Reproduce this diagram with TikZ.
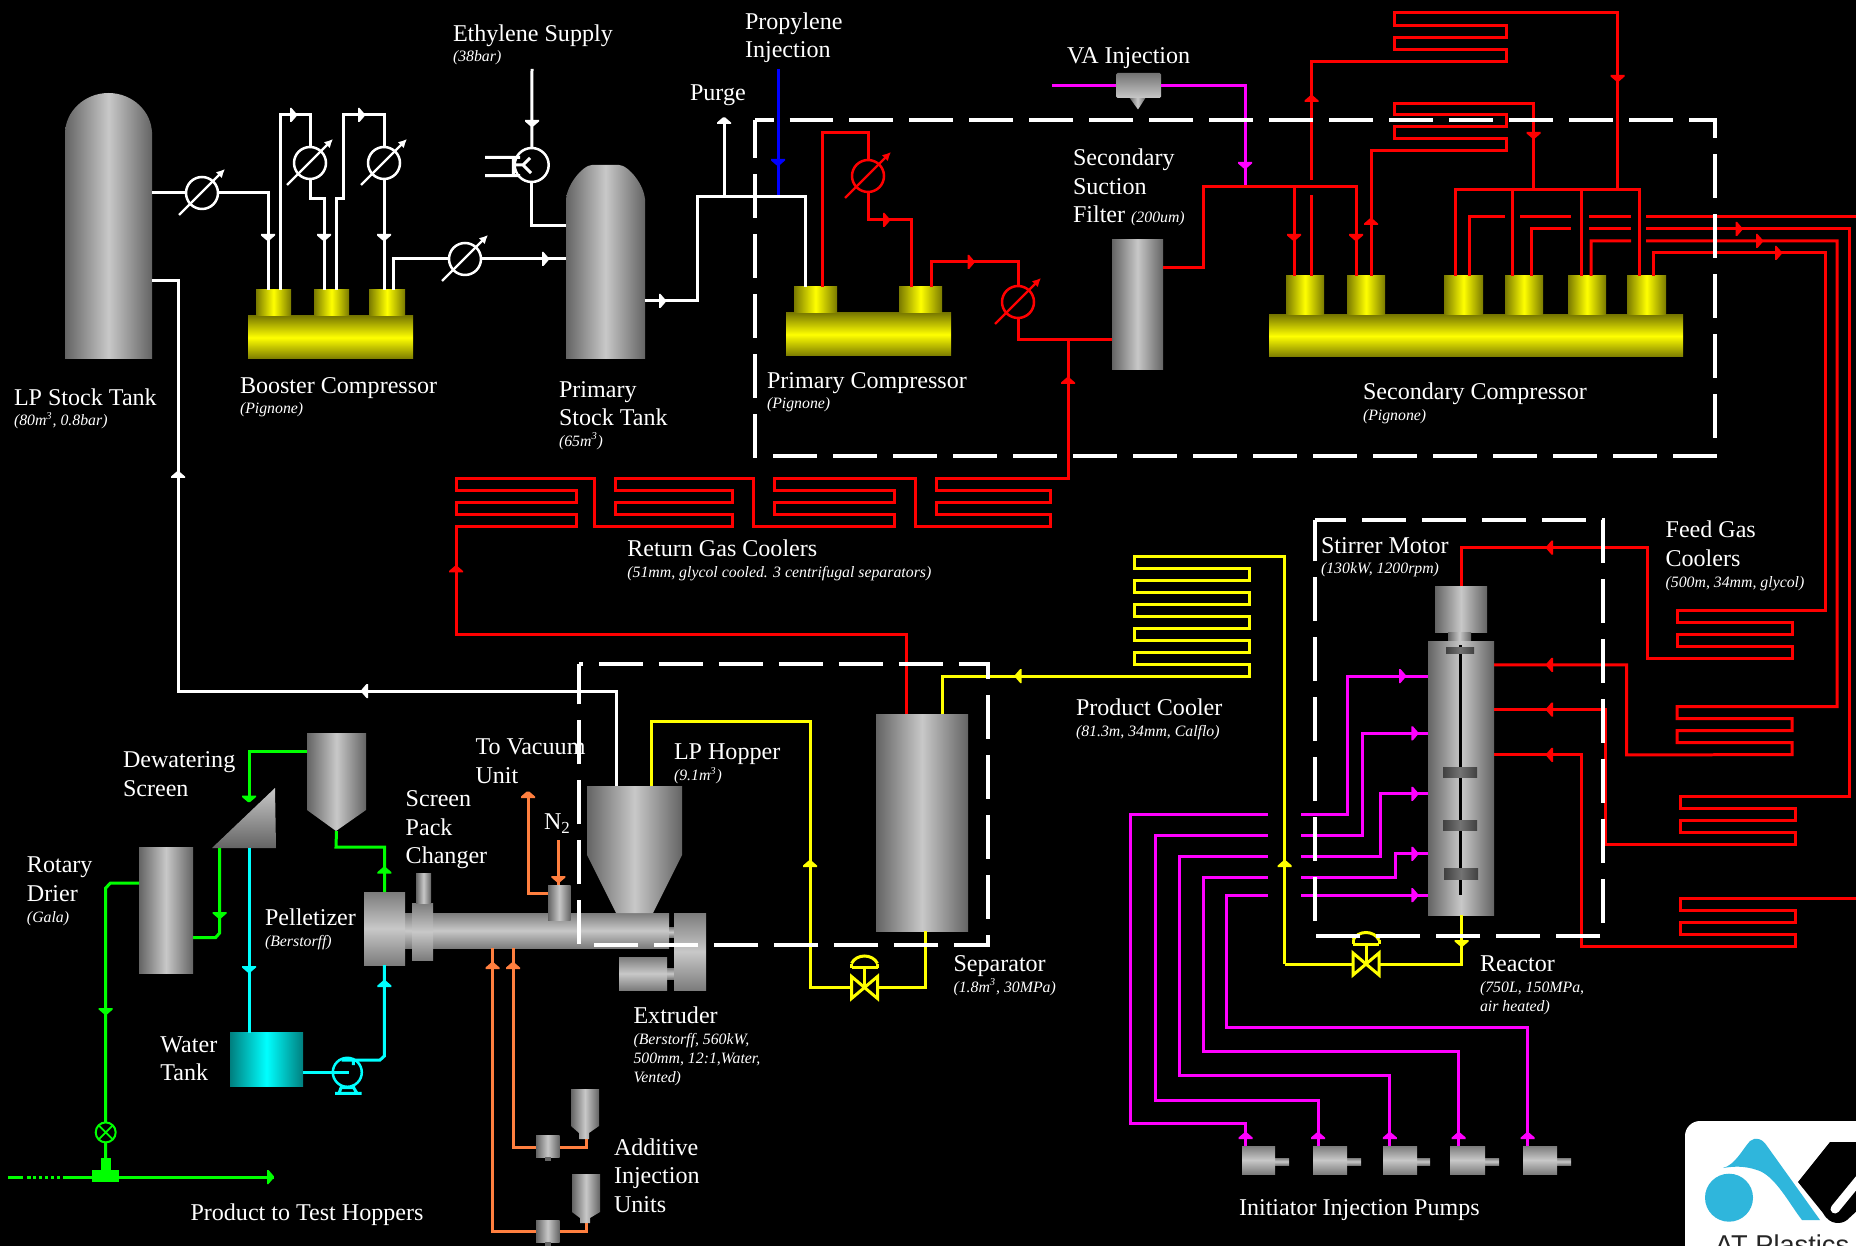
\documentclass[tikz,border=0pt]{standalone}
\usepackage{fontspec}
\setmainfont{Liberation Serif}
\newfontfamily\logofont{Liberation Sans}
\usetikzlibrary{arrows.meta,fit}
\definecolor{vesselEdge}{HTML}{646464}
\definecolor{vesselMid}{HTML}{C8C8C8}
\definecolor{barrelEdge}{HTML}{7C7C7C}
\definecolor{oliveEdge}{HTML}{7A7A00}
\definecolor{waterEdge}{HTML}{007F7F}
\definecolor{addOrange}{HTML}{FF7F3F}
\definecolor{logoBlue}{HTML}{2FB6DC}
\definecolor{pipeGreen}{HTML}{00FF00}
\definecolor{pipeMagenta}{HTML}{FF00FF}
\definecolor{pipeCyan}{HTML}{00FFFF}
\definecolor{pipeYellow}{HTML}{FFFF00}
\definecolor{pipeRed}{HTML}{FF0000}
\definecolor{pipeBlue}{HTML}{0000FF}
\newcommand{\coilfive}[4]{-- (#1,#3) -- (#1,#3+#4) -- (#2,#3+#4) -- (#2,#3+2*#4) -- (#1,#3+2*#4) -- (#1,#3+3*#4) -- (#2,#3+3*#4) -- (#2,#3+4*#4) }
\newcommand{\subtxt}[1]{{\itshape\fontsize{9}{11}\selectfont #1}}
\begin{document}
\begin{tikzpicture}[x=.02cm,y=-.02cm,inner sep=0pt,outer sep=0pt,
pipe/.style={line width=.06cm},
vessel/.style={left color=vesselEdge,right color=vesselEdge,middle color=vesselMid},
barrel/.style={top color=barrelEdge,bottom color=barrelEdge,middle color=vesselMid},
yellowbody/.style={top color=oliveEdge,bottom color=oliveEdge,middle color=pipeYellow},
yellowcyl/.style={left color=oliveEdge,right color=oliveEdge,middle color=pipeYellow},
watertank/.style={left color=waterEdge,right color=waterEdge,middle color=pipeCyan},
paddle/.style={left color=black!75,right color=black!75,middle color=black!55},
hx/.style={draw,circle,minimum size=.64cm,line width=.05cm},
hxdiag/.style={line width=.045cm,-{Latex[length=.17cm,width=.17cm]}},
lbl/.style={anchor=base west,align=left,text=white,font=\fontsize{13.7}{16.2}\selectfont},
boxdash/.style={line width=.09cm,white,dash pattern=on .88cm off .32cm},
flowmark/.pic={\fill (-3,-7) -- (-1.5,-7) -- (3.5,-1.2) -- (3.5,1.2) -- (-1.5,7) -- (-3,7) -- cycle;},
valve/.pic={\draw[pipe] (-13,-11) -- (13,11) -- (13,-11) -- (-13,11) -- cycle;
  \draw[pipe] (0,0) -- (0,-20);
  \draw[pipe] (-13,-20) -- (13,-20) (-13,-24) -- (-13,-20) (13,-24) -- (13,-20);
  \draw[pipe] (-13,-24) .. controls (-8,-34) and (8,-34) .. (13,-24);
  \coordinate (-w) at (-13,0); \coordinate (-e) at (13,0); \coordinate (-s) at (0,11);}]
\useasboundingbox (0,0) rectangle (1856,1246);
\clip (0,0) rectangle (1856,1246);
\fill[black] (0,0) rectangle (1856,1246);
% tanks
\node[vessel,fit={(65,133) (152,359)}] (lpTank) {};
\shade[vessel] (65,134) .. controls (65,111) and (85,93) .. (108.5,93) .. controls (132,93) and (152,111) .. (152,134) -- cycle;
\node[vessel,fit={(566,200) (645,359)}] (primTank) {};
\shade[vessel] (566,201) .. controls (566,185) and (583,165) .. (592,165) -- (619,165) .. controls (628,165) and (645,185) .. (645,201) -- cycle;
\node[vessel,fit={(1112,240) (1163,370)}] (filter) {};
\node[vessel,fit={(876,714) (968,931)}] (separator) {};
\node[vessel,fit={(139,847) (193,973)}] (drier) {};
\node[watertank,fit={(230,1032.5) (303,1086)}] (waterTank) {};
% booster compressor
\node[yellowbody,fit={(248,316) (413,359)}] (boostBody) {};
\foreach \n/\xa/\xb in {1/256/291,2/314/349,3/369/405}
  \node[yellowcyl,fit={(\xa,290) (\xb,316)}] (boostCyl\n) {};
% primary compressor
\node[yellowbody,fit={(786,313) (951,356)}] (primBody) {};
\foreach \n/\xa/\xb in {1/794/837,2/899/942}
  \node[yellowcyl,fit={(\xa,287) (\xb,313)}] (primCyl\n) {};
% secondary compressor
\node[yellowbody,fit={(1269,315) (1683,357)}] (secBody) {};
\foreach \n/\xa/\xb in {1/1286/1324,2/1347/1385,3/1444/1483,4/1505/1543,5/1568/1606,6/1627/1666}
  \node[yellowcyl,fit={(\xa,276) (\xb,315)}] (secCyl\n) {};
% VA injector
\node[fit={(1116,73) (1161,109)}] (vaPot) {};
\shade[vessel] (1129,97) -- (1146,97) -- (1138,109.5) -- cycle;
\shade[top color=black!55,bottom color=vesselMid,rounded corners=.03cm] (1116,73) rectangle (1161,98);
% extruder line
\node[barrel,fit={(405,913) (669,948)}] (extBarrel) {};
\node[barrel,fit={(364,892) (405,965)}] (pelletizer) {};
\node[barrel,fit={(412,903) (433,960)}] (screenPack) {};
\node[vessel,fit={(416,873) (431,903)}] (screenTube) {};
\node[vessel,fit={(548,885) (570.5,920)}] (n2Port) {};
\node[barrel,fit={(669,927) (674,937)}] (extStubA) {};
\node[barrel,fit={(667,968) (674,979)}] (extStubB) {};
\node[barrel,fit={(674,913) (706,990)}] (gearBox) {};
\node[barrel,fit={(619,957) (667,990)}] (extMotor) {};
\node[fit={(587,786) (682,913)}] (lpHopper) {};
\shade[vessel] (587,786) -- (682,786) -- (682,855) -- (653,913) -- (616,913) -- (587,855) -- cycle;
% pellet handling
\node[fit={(307,733) (366,831)}] (dryHopper) {};
\shade[vessel] (307,733) -- (366,733) -- (366,810) -- (336,831) -- (307,810) -- cycle;
\node[fit={(212,788) (276,848)}] (dewScreen) {};
\shade[top color=vesselMid,bottom color=vesselEdge] (275,788) -- (276,848) -- (212,848) -- cycle;
% additive units
\foreach \n/\ya/\yb/\yc/\yd/\xs in {1/1089/1126/1133/1139/0,2/1174/1212/1218/1223/1}
  \shade[vessel] (571+\xs,\ya) -- (599+\xs,\ya) -- (599+\xs,\yb) -- (589+\xs,\yc) -- (589+\xs,\yd) -- (579+\xs,\yd) -- (579+\xs,\yc) -- (571+\xs,\yb) -- cycle;
\foreach \n/\ya/\yb in {1/1135/1157,2/1220/1242}{
  \node[vessel,fit={(536,\ya) (559.5,\yb)}] (addPump\n) {};
  \fill[vesselEdge] (545,\yb) rectangle (551,\yb+4);}
% reactor
\node[vessel,fit={(1435,586) (1487,632)}] (stirMotor) {};
\node[vessel,fit={(1448,632) (1471,641)}] (stirCoupling) {};
\node[vessel,fit={(1428,641) (1494,915)}] (reactor) {};
\draw[line width=.05cm,black] (1460.7,645) -- (1460.7,895);
\node[paddle,fit={(1446,647) (1474,653)}] (paddle1) {};
\node[paddle,fit={(1443,767) (1477,777)}] (paddle2) {};
\node[paddle,fit={(1443,820) (1477,830)}] (paddle3) {};
\node[paddle,fit={(1444,868) (1478,879)}] (paddle4) {};
% initiator pumps
\foreach \n/\xa/\xb/\xc in {1/1242/1275/1289,2/1313/1347/1361,3/1383/1417/1430,4/1450/1485/1499,5/1523/1557/1571}{
  \node[barrel,fit={(\xb,1158) (\xc,1165)}] (initShaft\n) {};
  \node[barrel,fit={(\xa,1146) (\xb,1174)}] (initPump\n) {};}
% heat exchangers and compressor, pumps
\node[hx,draw=white] (hxLP) at (202,193) {};
\node[hx,draw=white] (hxB1) at (310,163) {};
\node[hx,draw=white] (hxB2) at (384,163) {};
\node[hx,draw=white] (hxB3) at (465,259) {};
\node[hx,draw=pipeRed] (hxP1) at (868,176) {};
\node[hx,draw=pipeRed] (hxP2) at (1018,302) {};
\foreach \n/\c in {hxLP/white,hxB1/white,hxB2/white,hxB3/white,hxP1/pipeRed,hxP2/pipeRed}
  \draw[hxdiag,\c] (\n) ++(-23,22) -- ++(46,-46);
\node[draw=white,circle,minimum size=.68cm,line width=.05cm] (ethComp) at (531.7,165) {};
\draw[pipe,white] (485,157.3) -- (520,157.3) (485,175.7) -- (520,175.7) (513.3,157.3) -- (513.3,175.7) (513.3,165) -- (523,165) (530,158) -- (523,165) (523,165) -- (531,173);
\node[draw=pipeCyan,circle,minimum size=.58cm,line width=.05cm] (waterPump) at (347.3,1072.3) {};
\draw[pipe,pipeCyan] (353.3,1060) -- (353.3,1065) (342,1085) -- (339,1093.3) (352,1085) -- (357,1093.3) (340.7,1087.7) -- (355,1087.7) (335,1093.3) -- (361.7,1093.3);
% white pipes
\draw[pipe,white] (lpTank.east |- hxLP) -- (hxLP);
\draw[pipe,white] (hxLP) -| (268,0 |- boostCyl1.north);
\draw[pipe,white] (280,0 |- boostCyl1.north) -- (280,115) -| (hxB1);
\draw[pipe,white] (hxB1) |- (324,199) -- (324,0 |- boostCyl2.north);
\draw[pipe,white] (336,0 |- boostCyl2.north) -- (336,199) -- (343,199) -- (343,115) -| (hxB2);
\draw[pipe,white] (hxB2) -- (hxB2 |- boostCyl3.north);
\draw[pipe,white] (393,0 |- boostCyl3.north) -- (393,259) -- (hxB3);
\draw[pipe,white] (hxB3) -- (primTank.west |- hxB3);
\draw[pipe,white] (532,69) -- (ethComp);
\draw[pipe,white] (ethComp) |- (primTank.west |- 0,226);
\draw[pipe,white] (primTank.east |- 0,301) -- (697,301) -- (697,197) -- (805.5,197) -- (805.5,0 |- primCyl1.north);
\draw[pipe,white] (724,197) -- (724,120);
\draw[pipe,white] (lpTank.east |- 0,281) -- (178,281) -- (178,691) -- (616,691) -- (616,0 |- lpHopper.north);
% blue and magenta pipes
\draw[pipe,pipeBlue] (778,69) -- (778,195);
\draw[pipe,pipeMagenta] (1052,85.3) -- (1116,85.3);
\draw[pipe,pipeMagenta] (1161,85.3) -- (1245,85.3) -- (1245,187);
\foreach \ya/\xb/\yb in {814.3/1347.3/676,835.7/1362.8/733.3,856/1380.6/793.8,877.6/1395.6/853.8}
  \draw[pipe,pipeMagenta] (1301,\ya) -- (\xb,\ya) -- (\xb,\yb) -- (reactor.west |- 0,\yb);
\draw[pipe,pipeMagenta] (1301,895.2) -- (reactor.west |- 0,895.2);
\foreach \n/\ya/\xa/\yb/\xb in {1/814.3/1130.9/1123.8/1245.6,2/835.7/1155.4/1100/1318,3/856/1179/1075.7/1389.8,4/877.6/1203.7/1051.4/1458.7,5/895.2/1226.8/1027.6/1527.7}
  \draw[pipe,pipeMagenta] (1267.8,\ya) -- (\xa,\ya) -- (\xa,\yb) -- (\xb,\yb) -- (\xb,0 |- initPump\n.north);
% red pipes
\draw[pipe,pipeRed] (822,0 |- primCyl1.north) -- (822,133) -| (hxP1);
\draw[pipe,pipeRed] (hxP1) |- (911.5,220) -- (911.5,0 |- primCyl2.north);
\draw[pipe,pipeRed] (931,0 |- primCyl2.north) -- (931,262) -| (hxP2);
\draw[pipe,pipeRed] (hxP2) |- (filter.west |- 0,340);
\draw[pipe,pipeRed] (filter.east |- 0,268) -- (1203,268) -- (1203,187) -- (1356,187) -- (1356,0 |- secCyl2.north);
\draw[pipe,pipeRed] (1294,187) -- (1294,0 |- secCyl1.north);
\draw[pipe,pipeRed] (1311.5,0 |- secCyl1.north) -- (1311.5,195);
\draw[pipe,pipeRed] (1311.5,180) -- (1311.5,61.5) -- (1506,61.5) -- (1506,49.5) -- (1394,49.5) -- (1394,37.5) -- (1506,37.5) -- (1506,25.5) -- (1394,25.5) -- (1394,13) -- (1617.6,13) -- (1617.6,190);
\draw[pipe,pipeRed] (1371,0 |- secCyl2.north) -- (1371,151) -- (1506,151) -- (1506,139) -- (1394,139) -- (1394,127) -- (1506,127) -- (1506,115) -- (1394,115) -- (1394,103.5) -- (1533.6,103.5) -- (1533.6,190);
\draw[pipe,pipeRed] (1455,0 |- secCyl3.north) -- (1455,190) -- (1639,190) -- (1639,0 |- secCyl6.north);
\draw[pipe,pipeRed] (1512,190) -- (1512,0 |- secCyl4.north);
\draw[pipe,pipeRed] (1581,190) -- (1581,0 |- secCyl5.north);
% secondary discharge, broken where it passes the header legs
\draw[pipe,pipeRed] (1469.5,0 |- secCyl3.north) -- (1469.5,217) -- (1505,217) (1520,217) -- (1571,217) (1589,217) -- (1631,217) (1646,217) -- (1856,217);
\draw[pipe,pipeRed] (1531,0 |- secCyl4.north) -- (1531,229) -- (1571,229) (1589,229) -- (1631,229) (1646,229) -- (1849,229) -- (1849,796) \coilfive{1680.5}{1795}{796}{12} -- (1605,844) -- (1605,709.5) -- (reactor.east |- 0,709.5);
\draw[pipe,pipeRed] (1591,0 |- secCyl5.north) -- (1591,241) -- (1631,241) (1646,241) -- (1837,241) -- (1837,706.7) \coilfive{1677}{1792}{706.7}{12} -- (1626.5,754.8) -- (1626.5,664.8) -- (reactor.east |- 0,664.8);
\draw[pipe,pipeRed] (1653,0 |- secCyl6.north) -- (1653,253) -- (1825,253) -- (1825,610.5) \coilfive{1677}{1792}{610.5}{12} -- (1647.7,658.5) -- (1647.7,547.6) -| (stirMotor);
\draw[pipe,pipeRed] (1860,898.6) \coilfive{1680.5}{1795}{898.6}{12} -- (1581.7,946.6) -- (1581.7,754.8) -- (reactor.east |- 0,754.8);
% return gas coolers
\draw[pipe,pipeRed] (1068,340) -- (1068,478.3) \coilfive{936.3}{1050}{478.3}{12} -- (915.5,526.3) -- (915.5,478.3) \coilfive{774}{894}{478.3}{12} -- (753,526.3) -- (753,478.3) \coilfive{615}{732.6}{478.3}{12} -- (594.7,526.3) -- (594.7,478.3) \coilfive{456}{576}{478.3}{12} -- (456,526.3) -- (456,634.5) -- (906,634.5) -- (906,0 |- separator.north);
% yellow pipes
\pic[pipeYellow] (sepValve) at (864.5,987.5) {valve};
\pic[pipeYellow] (reactValve) at (1366,964) {valve};
\draw[pipe,pipeYellow] (651,0 |- lpHopper.north) -- (651,721) -- (810,721) -- (810,0 |- sepValve-w) -- (sepValve-w);
\draw[pipe,pipeYellow] (sepValve-e) -- (925,0 |- sepValve-e) -- (925,0 |- separator.south);
\draw[pipe,pipeYellow] (1284.7,964) -- (1284.7,556.5) \coilfive{1134}{1249}{556.5}{12} \coilfive{1134}{1249}{604.5}{12} -- (1134,652.5) -- (1134,664.5) -- (1249,664.5) -- (1249,676.6) -- (942,676.6) -- (942,0 |- separator.north);
\draw[pipe,pipeYellow] (1284.7,964) -- (reactValve-w);
\draw[pipe,pipeYellow] (reactValve-e) -| (reactor.south);
% green pipes
\draw[pipe,pipeGreen] (dryHopper.west |- 0,751.5) -- (249,751.5) -- (249,800);
\draw[pipe,pipeGreen] (219.6,848) -- (219.6,933) -- (215.7,937.5) -- (drier.east |- 0,937.5);
\draw[pipe,pipeGreen] (dryHopper.south) -- (336,847) -| (pelletizer.north);
\draw[pipe,pipeGreen] (drier.west |- 0,883) -- (110.5,883) -- (105.7,888) -- (105.7,1122);
\node[draw=pipeGreen,circle,minimum size=.4cm,line width=.04cm] (prodValve) at (105.7,1132.4) {};
\draw[line width=.035cm,pipeGreen] (prodValve.north west) -- (prodValve.south east) (prodValve.north east) -- (prodValve.south west);
\node[fill=pipeGreen,fit={(92,1170) (119,1182)}] (prodTee) {};
\node[fill=pipeGreen,fit={(101,1158) (110.5,1170)}] (prodTeeTop) {};
\draw[pipe,pipeGreen] (prodValve) -- (prodTeeTop);
\coordinate (prodOut) at (274,1177);
\coordinate (prodFeed) at (65,1177);
\draw[pipe,pipeGreen] (prodFeed) -- (prodOut);
\draw[pipe,pipeGreen,dash pattern=on .07cm off .05cm] (27,1177) -- (prodFeed);
\draw[pipe,pipeGreen] (8,1177) -- (23,1177);
% cyan pipes
\draw[pipe,pipeCyan] (249,848) -- (249,0 |- waterTank.north);
\draw[pipe,pipeCyan] (waterTank.east |- waterPump) -- (349.3,1072.3);
\draw[pipe,pipeCyan] (341.7,1060) -- (380,1060) -- (384.4,1056) -- (384.4,0 |- pelletizer.south);
% orange pipes
\draw[pipe,addOrange] (n2Port.west |- 0,893) -- (528,893) -- (528,793);
\draw[pipe,addOrange] (558.4,840) -- (558.4,0 |- n2Port.north);
\draw[pipe,addOrange] (492.5,0 |- extBarrel.south) -- (492.5,1231.7) -- (addPump2.west |- 0,1231.7);
\draw[pipe,addOrange] (513,0 |- extBarrel.south) -- (513,1147) -- (addPump1.west |- 0,1147);
\draw[pipe,addOrange] (addPump1.east |- 0,1147) -- (586,1147) -- (586,1139);
\draw[pipe,addOrange] (addPump2.east |- 0,1231.7) -- (586,1231.7) -- (586,1223);
% flow marks
\foreach \px/\py/\ang in {268/237/-90,324/237/-90,384/237/-90,532/123/-90,293/115/0,361/115/0,545/259/0,662/301/0,178/475/90,724/121/90,365/691/180}
  \pic[rotate=\ang,white] at (\px,\py) {flowmark};
\pic[rotate=-90,pipeBlue] at (778,162) {flowmark};
\foreach \px/\py/\ang in {1245/165/-90,1402/676/0,1414.4/733.3/0,1414.4/793.8/0,1414.4/853.8/0,1414.4/895.2/0,1245.6/1136/90,1318/1136/90,1389.8/1136/90,1458.7/1136/90,1527.7/1136/90}
  \pic[rotate=\ang,pipeMagenta] at (\px,\py) {flowmark};
\foreach \px/\py/\ang in {886/220/0,970.6/262/0,1738.6/229/0,1759/241/0,1778/253/0,1068/381/90,456/569.5/90,1311.5/99/90,1371/222/90,1294/237/-90,1356/237/-90,1617.6/78/-90,1533.6/135/-90,1550/547.6/180,1550/664.8/180,1550/709.5/180,1550/754.8/180}
  \pic[rotate=\ang,pipeRed] at (\px,\py) {flowmark};
\foreach \px/\py/\ang in {810/864/90,1284.7/864/90,1018.7/676/180,1461.6/943/-90}
  \pic[rotate=\ang,pipeYellow] at (\px,\py) {flowmark};
\foreach \px/\py/\ang in {249/798.5/-90,219.6/915/-90,105.7/1011/-90,384.4/870.6/90,270/1177/0}
  \pic[rotate=\ang,pipeGreen] at (\px,\py) {flowmark};
\foreach \px/\py/\ang in {249/969/-90,384.4/984/90}
  \pic[rotate=\ang,pipeCyan] at (\px,\py) {flowmark};
\foreach \px/\py/\ang in {528/795/90,492.5/966/90,513/966/90,558.4/879/-90}
  \pic[rotate=\ang,addOrange] at (\px,\py) {flowmark};
% labels, placed by the baseline of their last line
\node[lbl] (ethLabel) at (453,62) {Ethylene Supply\\[-4.3pt]\subtxt{(38bar)}};
\node[lbl] (purgeLabel) at (690,101) {Purge};
\node[lbl] (propLabel) at (745,57.7) {Propylene\\Injection};
\node[lbl] (lpLabel) at (14,426) {LP Stock Tank\\[-4.3pt]\subtxt{(80m\textsuperscript{3}, 0.8bar)}};
\node[lbl] (boostLabel) at (240,414) {Booster Compressor\\[-4.3pt]\subtxt{(Pignone)}};
\node[lbl] (primLabel) at (559,446.7) {Primary\\Stock Tank\\[-4.3pt]\subtxt{(65m\textsuperscript{3})}};
\node[lbl] (vaLabel) at (1067,64) {VA Injection};
\node[lbl] (filterLabel) at (1073,222.7) {Secondary\\Suction\\Filter \subtxt{(200um)}};
\node[lbl] (primCompLabel) at (767,409) {Primary Compressor\\[-4.3pt]\subtxt{(Pignone)}};
\node[lbl] (secCompLabel) at (1363,420.7) {Secondary Compressor\\[-4.3pt]\subtxt{(Pignone)}};
\node[lbl] (returnLabel) at (627.4,577.6) {Return Gas Coolers\\[-4.3pt]\subtxt{(51mm, glycol cooled. 3 centrifugal separators)}};
\node[lbl] (stirLabel) at (1321,574) {Stirrer Motor\\[-4.3pt]\subtxt{(130kW, 1200rpm)}};
\node[lbl] (feedLabel) at (1665.6,587) {Feed Gas\\Coolers\\[-4.3pt]\subtxt{(500m, 34mm, glycol)}};
\node[lbl] (coolerLabel) at (1076,736) {Product Cooler\\[-4.3pt]\subtxt{(81.3m, 34mm, Calflo)}};
\node[lbl] (reactorLabel) at (1480,1011) {Reactor\\[-4.3pt]\subtxt{(750L, 150MPa,}\\[-5.4pt]\subtxt{air heated)}};
\node[lbl] (initLabel) at (1239,1215) {Initiator Injection Pumps};
\node[lbl] (dewLabel) at (123,796) {Dewatering\\Screen};
\node[lbl] (vacLabel) at (475.5,783) {To Vacuum\\Unit};
\node[lbl] (packLabel) at (405.7,863.6) {Screen\\Pack\\Changer};
\node[lbl] (n2Label) at (544,829.5) {N\textsubscript{2}};
\node[lbl] (hopperLabel) at (674,780.8) {LP Hopper\\[-4.3pt]\subtxt{(9.1m\textsuperscript{3})}};
\node[lbl] (drierLabel) at (27,922) {Rotary\\Drier\\[-4.3pt]\subtxt{(Gala)}};
\node[lbl] (pelLabel) at (265,946) {Pelletizer\\[-4.3pt]\subtxt{(Berstorff)}};
\node[lbl] (waterLabel) at (160.4,1080.6) {Water\\Tank};
\node[lbl] (extLabel) at (633.5,1082) {Extruder\\[-4.3pt]\subtxt{(Berstorff, 560kW,}\\[-5.4pt]\subtxt{500mm, 12:1,Water,}\\[-5.4pt]\subtxt{Vented)}};
\node[lbl] (addLabel) at (614,1212) {Additive\\Injection\\Units};
\node[lbl] (testLabel) at (190.5,1220) {Product to Test Hoppers};
\node[lbl] (sepLabel) at (953.5,992.7) {Separator\\[-4.3pt]\subtxt{(1.8m\textsuperscript{3}, 30MPa)}};
% dashed enclosures
\draw[boxdash,dash phase=.51cm] (755,120) -- (1715,120) -- (1715,456) -- (755,456) -- cycle;
\draw[boxdash,dash phase=.8cm] (579,664) -- (988,664) -- (988,945) -- (579,945) -- cycle;
\draw[boxdash,dash phase=.26cm] (1315,520) -- (1603,520) -- (1603,936) -- (1315,936) -- cycle;
% logo
\fill[white,rounded corners=.3cm] (1685,1121) rectangle (1920,1300);
\fill[logoBlue] (1729,1197.7) circle[radius=24];
\fill[logoBlue] (1723,1168) .. controls (1735,1165) and (1742,1150) .. (1750,1141) .. controls (1755,1137) and (1762,1138) .. (1767,1146) -- (1820,1220) -- (1802,1220) .. controls (1790,1205) and (1775,1175) .. (1757,1170) .. controls (1745,1166) and (1735,1166) .. (1723,1168) -- cycle;
\fill[black] (1798,1182) -- (1830,1142) -- (1860,1142) -- (1860,1208) -- (1847,1220) .. controls (1842,1224) and (1830,1226) .. (1823,1213) -- cycle;
\draw[white,line width=.18cm,line cap=round] (1835,1209) -- (1862,1176);
\node[anchor=base west,text=black!85,font=\logofont\fontsize{15.5}{18}\selectfont] (logoText) at (1715,1254.6) {AT Plastics};
\end{tikzpicture}
\end{document}
